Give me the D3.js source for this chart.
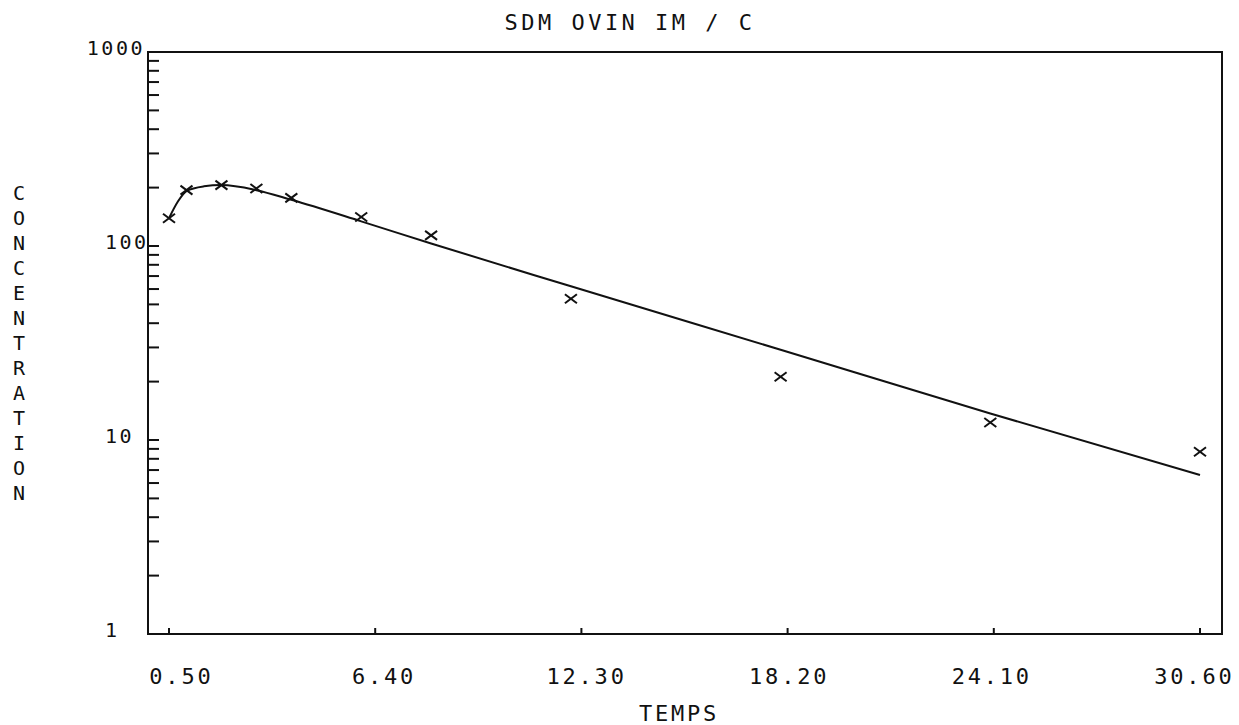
<!DOCTYPE html>
<html>
<head>
<meta charset="utf-8">
<script src="https://cdn.jsdelivr.net/npm/d3@7/dist/d3.min.js"></script>
<style>
body { margin: 0; background: #fff; }
text { font-family: "DejaVu Sans Mono", monospace; fill: #111; }
</style>
</head>
<body>
<div id="chart"></div>
<script>
// measured points (x markers)
var times = [0.5, 1, 2, 3, 4, 6, 8, 12, 18, 24, 30];
var conc = [139, 194, 206, 198, 177, 141, 113.5, 53.5, 21.2, 12.3, 8.7];

// fitted curve
var fitTimes = [0.5, 0.75, 1, 1.5, 2, 3, 4, 6, 8, 12, 18, 24, 30];
var fitConc = [139, 169, 192, 203, 206, 194, 173, 134, 103, 62, 29.2, 13.7, 6.6];

// axis labels
var xTicks = [0.5, 6.4, 12.3, 18.2, 24.1, 30.0];
var xTickLabels = ["0.50", "6.40", "12.30", "18.20", "24.10", "30.60"];
var yLabels = [1000, 100, 10, 1];

var title = "SDM OVIN IM / C";
var xTitle = "TEMPS";
var yTitle = "CONCENTRATION";

var width = 1239,
    height = 725;

var left = 148, right = 1222;

var x = d3.scaleLinear().domain([0.5, 30]).range([169, 1200]);
// labels drift a bit from their ticks on the plotter output
var xLab = d3.scaleLinear().domain([0.5, 30]).range([180, 1193]);
var y = d3.scaleLog().domain([1, 1000]).range([634, 52]);

var svg = d3.select("#chart").append("svg")
    .attr("width", width)
    .attr("height", height);

// frame
svg.append("rect")
    .attr("x", left)
    .attr("y", y(1000))
    .attr("width", right - left)
    .attr("height", y(1) - y(1000))
    .attr("fill", "none")
    .attr("stroke", "#111")
    .attr("stroke-width", 2);

// y ticks (1..9 per decade)
svg.selectAll("line.ytick")
    .data(y.ticks())
  .enter().append("line")
    .attr("class", "ytick")
    .attr("x1", left)
    .attr("x2", left + 11)
    .attr("y1", function(d) { return y(d); })
    .attr("y2", function(d) { return y(d); })
    .attr("stroke", "#111")
    .attr("stroke-width", 2);

// plotter puts the short labels left-aligned, 1000 overflows to the left
svg.selectAll("text.ylab")
    .data(yLabels)
  .enter().append("text")
    .attr("class", "ylab")
    .attr("x", function(d) { return d >= 1000 ? 145 : 105; })
    .attr("y", function(d) { return y(d) - 4; })
    .attr("text-anchor", function(d) { return d >= 1000 ? "end" : "start"; })
    .attr("dominant-baseline", "central")
    .attr("font-size", 20)
    .attr("letter-spacing", 2.5)
    .text(function(d) { return d; });

// x ticks
svg.selectAll("line.xtick")
    .data(xTicks)
  .enter().append("line")
    .attr("class", "xtick")
    .attr("x1", function(d) { return x(d); })
    .attr("x2", function(d) { return x(d); })
    .attr("y1", y(1))
    .attr("y2", y(1) - 6)
    .attr("stroke", "#111")
    .attr("stroke-width", 2);

svg.selectAll("text.xlab")
    .data(xTicks)
  .enter().append("text")
    .attr("class", "xlab")
    .attr("x", function(d) { return xLab(d) + 1.4; })
    .attr("y", 676)
    .attr("text-anchor", "middle")
    .attr("dominant-baseline", "central")
    .attr("font-size", 22)
    .attr("letter-spacing", 2.8)
    .text(function(d, i) { return xTickLabels[i]; });

// fitted curve
var fit = fitTimes.map(function(t, i) { return [t, fitConc[i]]; });
var line = d3.line()
    .x(function(d) { return x(d[0]); })
    .y(function(d) { return y(d[1]); })
    .curve(d3.curveMonotoneX);

svg.append("path")
    .datum(fit)
    .attr("d", line)
    .attr("fill", "none")
    .attr("stroke", "#111")
    .attr("stroke-width", 2);

// x markers
var pts = times.map(function(t, i) { return {t: t, c: conc[i]}; });
var marks = svg.selectAll("g.mark")
    .data(pts).enter().append("g")
    .attr("class", "mark")
    .attr("transform", function(d) { return "translate(" + x(d.t) + "," + y(d.c) + ")"; });

marks.append("line")
    .attr("x1", -6).attr("y1", -4.5).attr("x2", 6).attr("y2", 4.5)
    .attr("stroke", "#111").attr("stroke-width", 2);
marks.append("line")
    .attr("x1", -6).attr("y1", 4.5).attr("x2", 6).attr("y2", -4.5)
    .attr("stroke", "#111").attr("stroke-width", 2);

// titles
svg.append("text")
    .attr("x", 630)
    .attr("y", 22)
    .attr("text-anchor", "middle")
    .attr("dominant-baseline", "central")
    .attr("font-size", 22)
    .attr("letter-spacing", 3.5)
    .text(title);

svg.append("text")
    .attr("x", 679)
    .attr("y", 713)
    .attr("text-anchor", "middle")
    .attr("dominant-baseline", "central")
    .attr("font-size", 22)
    .attr("letter-spacing", 2.8)
    .text(xTitle);

// vertical stacked y title
svg.selectAll("text.ytitle")
    .data(yTitle.split(""))
  .enter().append("text")
    .attr("class", "ytitle")
    .attr("x", 19)
    .attr("y", function(d, i) { return 193 + i * 25; })
    .attr("text-anchor", "middle")
    .attr("dominant-baseline", "central")
    .attr("font-size", 20)
    .text(function(d) { return d; });
</script>
</body>
</html>
